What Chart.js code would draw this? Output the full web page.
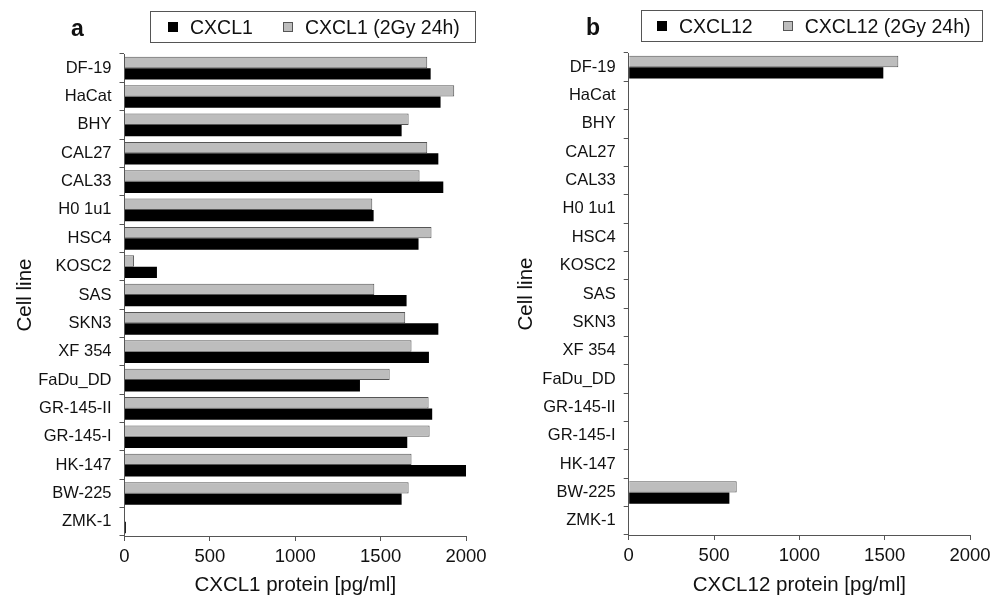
<!DOCTYPE html>
<html>
<head>
<meta charset="utf-8">
<script src="https://cdn.jsdelivr.net/npm/chart.js@4.4.1/dist/chart.umd.min.js"></script>
<style>
  body { margin: 0; background: #fff; font-family: "Liberation Sans", Arial, sans-serif; }
  #page { position: relative; width: 1004px; height: 600px; overflow: hidden; }
  .panel { position: absolute; top: 0; height: 600px; }
  .tag { position: absolute; font-weight: bold; font-size: 23px; line-height: 23px; color: #111; }
  .legend { position: absolute; height: 32px; border: 1px solid #555; display: flex; align-items: center;
            box-sizing: border-box; font-size: 19.5px; color: #111; white-space: nowrap; }
  .legend .sw { display: inline-block; width: 10px; height: 10px; box-sizing: border-box; margin-right: 12px; }
  .legend .item { display: flex; align-items: center; margin-right: 30px; }
  .legend .item:last-child { margin-right: 0; }
</style>
</head>
<body>
<div id="page">
  <div class="panel" style="left:0;width:500px"><canvas id="chartA" width="500" height="600"></canvas></div>
  <div class="panel" style="left:500px;width:504px"><canvas id="chartB" width="504" height="600"></canvas></div>
  <div class="tag" style="left:71px;top:17px">a</div>
  <div class="tag" style="left:586px;top:16px">b</div>
  <div class="legend" id="legendA" style="left:150px;top:11px;width:326px;padding-left:17px"></div>
  <div class="legend" id="legendB" style="left:641px;top:10px;width:342px;padding-left:15px"></div>
</div>
<script>
var cellLines = ["DF-19", "HaCat", "BHY", "CAL27", "CAL33", "H0 1u1", "HSC4", "KOSC2", "SAS", "SKN3",
                 "XF 354", "FaDu_DD", "GR-145-II", "GR-145-I", "HK-147", "BW-225", "ZMK-1"];

var cxcl1     = [1793, 1851, 1623, 1838, 1867, 1459, 1722, 190, 1652, 1838, 1783, 1379, 1802, 1656, 2000, 1623, 8];
var cxcl1Irr  = [1773, 1931, 1664, 1773, 1728, 1451, 1798, 56, 1463, 1644, 1681, 1553, 1781, 1787, 1681, 1664, 0];

var cxcl12    = [1492, 0, 0, 0, 0, 0, 0, 0, 0, 0, 0, 0, 0, 0, 0, 590, 0];
var cxcl12Irr = [1580, 0, 0, 0, 0, 0, 0, 0, 0, 0, 0, 0, 0, 0, 0, 633, 0];

var xTicks = [0, 500, 1000, 1500, 2000];

var FONT = "'Liberation Sans', Arial, sans-serif";
var AXIS = "#555";
var TEXT = "#111";

// html legend, black series first like the figure
function buildLegend(chart, id) {
    var box = document.getElementById(id);
    var sets = chart.data.datasets.slice().reverse();
    for (var i = 0; i < sets.length; ++i) {
        var item = document.createElement("span");
        item.className = "item";
        var sw = document.createElement("span");
        sw.className = "sw";
        sw.style.background = sets[i].backgroundColor;
        if (sets[i].borderWidth) sw.style.border = "1px solid " + sets[i].borderColor;
        var txt = document.createElement("span");
        txt.textContent = sets[i].label;
        item.appendChild(sw);
        item.appendChild(txt);
        box.appendChild(item);
    }
}

function makeChart(canvasId, black, gray, names, xTitle, geo) {
    var ctx = document.getElementById(canvasId);
    return new Chart(ctx, {
        type: "bar",
        data: {
            labels: cellLines,
            datasets: [{
                label: names[1],
                data: gray,
                backgroundColor: "#bdbdbd",
                borderColor: "#555555",
                borderWidth: 1,
                categoryPercentage: 0.8,
                barPercentage: 1.0
            }, {
                label: names[0],
                data: black,
                backgroundColor: "#000000",
                borderWidth: 0,
                categoryPercentage: 0.8,
                barPercentage: 1.0
            }]
        },
        options: {
            indexAxis: "y",
            responsive: false,
            animation: false,
            layout: { padding: { left: 0, right: geo.right, top: geo.top, bottom: 0 } },
            plugins: {
                legend: { display: false },
                tooltip: { enabled: false }
            },
            scales: {
                x: {
                    min: 0,
                    max: 2000,
                    afterBuildTicks: function (s) { s.ticks = xTicks.map(function (v) { return { value: v }; }); },
                    grid: { drawOnChartArea: false, tickLength: 5, color: AXIS },
                    border: { color: AXIS },
                    ticks: {
                        font: { family: FONT, size: 18.5 }, color: TEXT, padding: 5,
                        callback: function (v) { return String(v); }
                    },
                    title: { display: true, text: xTitle, font: { family: FONT, size: 20.5 }, color: TEXT,
                             padding: { top: 0, bottom: 2 } },
                    afterFit: function (s) { s.height = geo.xh; }
                },
                y: {
                    grid: { drawOnChartArea: false, tickLength: 5, color: AXIS, offset: true },
                    border: { color: AXIS },
                    ticks: { font: { family: FONT, size: 16.5 }, color: TEXT, padding: 8 },
                    title: { display: true, text: "Cell line", font: { family: FONT, size: 20.5 }, color: TEXT,
                             padding: { top: geo.tp, bottom: 0 } },
                    afterFit: function (s) { s.width = geo.yw; }
                }
            }
        }
    });
}

var chartA = makeChart("chartA", cxcl1, cxcl1Irr, ["CXCL1", "CXCL1 (2Gy 24h)"], "CXCL1 protein [pg/ml]",
                       { right: 34, top: 54, xh: 64, yw: 124.5, tp: 12.7 });
var chartB = makeChart("chartB", cxcl12, cxcl12Irr, ["CXCL12", "CXCL12 (2Gy 24h)"], "CXCL12 protein [pg/ml]",
                       { right: 34, top: 53, xh: 65, yw: 128.7, tp: 13.7 });

buildLegend(chartA, "legendA");
buildLegend(chartB, "legendB");
</script>
</body>
</html>
